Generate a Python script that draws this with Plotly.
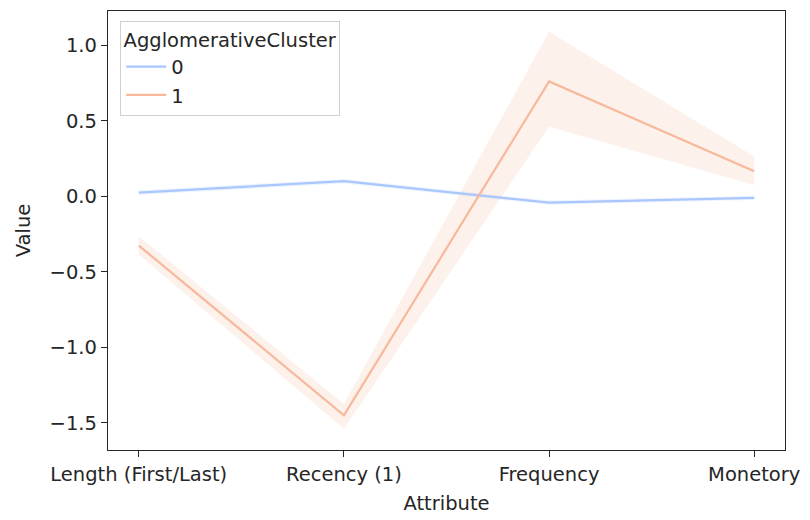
import plotly.graph_objects as go

attributes = ["Length (First/Last)", "Recency (1)", "Frequency", "Monetory"]
cluster0_mean = [0.024, 0.10, -0.042, -0.01]
cluster0_low = [0.008, 0.085, -0.056, -0.024]
cluster0_high = [0.040, 0.115, -0.028, 0.004]
cluster1_mean = [-0.326, -1.45, 0.761, 0.166]
cluster1_low = [-0.385, -1.54, 0.46, 0.074]
cluster1_high = [-0.265, -1.375, 1.09, 0.264]
cluster_names = ["0", "1"]

colors = ["rgb(170,199,253)", "rgb(247,184,156)"]
fills = ["rgba(170,199,253,0.2)", "rgba(247,184,156,0.2)"]

fig = go.Figure()
series = [(cluster0_mean, cluster0_low, cluster0_high), (cluster1_mean, cluster1_low, cluster1_high)]
for i, (m, lo, hi) in enumerate(series):
    fig.add_trace(go.Scatter(x=attributes, y=lo, mode="lines", line=dict(width=0),
                             showlegend=False, hoverinfo="skip"))
    fig.add_trace(go.Scatter(x=attributes, y=hi, mode="lines", line=dict(width=0),
                             fill="tonexty", fillcolor=fills[i], showlegend=False, hoverinfo="skip"))
for i, (m, lo, hi) in enumerate(series):
    fig.add_trace(go.Scatter(x=attributes, y=m, mode="lines", name=cluster_names[i],
                             line=dict(color=colors[i], width=2.2)))

font = dict(family="DejaVu Sans", size=19.5, color="#262626")
fig.update_layout(
    width=810, height=520,
    margin=dict(l=108, r=22, t=10, b=67),
    paper_bgcolor="white", plot_bgcolor="white",
    font=font,
    legend=dict(
        title=dict(text="AgglomerativeCluster", side="top center", font=font),
        x=0.018, y=0.977, xanchor="left", yanchor="top",
        bgcolor="rgba(255,255,255,0.8)", bordercolor="#d0d0d0", borderwidth=1,
        font=font, itemwidth=40, traceorder="normal",
    ),
    xaxis=dict(
        type="category", range=[-0.15, 3.15],
        showline=True, linecolor="#262626", linewidth=1.3, mirror=True,
        ticks="outside", ticklen=6, tickwidth=1.3, tickcolor="#262626",
        showgrid=False, zeroline=False,
        title=dict(text="Attribute", standoff=11, font=font),
    ),
    yaxis=dict(
        range=[-1.68, 1.227],
        tickvals=[-1.5, -1.0, -0.5, 0.0, 0.5, 1.0],
        ticktext=["\u22121.5", "\u22121.0", "\u22120.5", "0.0", "0.5", "1.0"],
        showline=True, linecolor="#262626", linewidth=1.3, mirror=True,
        ticks="outside", ticklen=6, tickwidth=1.3, tickcolor="#262626",
        showgrid=False, zeroline=False,
        title=dict(text="Value", standoff=13, font=font),
    ),
)

fig.write_html("out.html")
